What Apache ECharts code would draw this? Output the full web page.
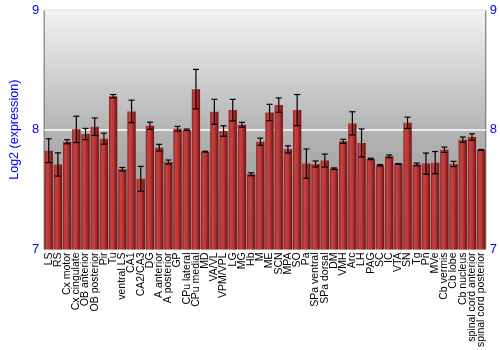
<!DOCTYPE html>
<html>
<head>
<meta charset="utf-8">
<script src="https://cdn.jsdelivr.net/npm/echarts@6/dist/echarts.min.js"></script>
<style>html,body{margin:0;padding:0;background:#fff}#c{width:500px;height:350px}</style>
</head>
<body>
<div id="c"></div>
<script>
const categories = ["LS","RS","Cx motor","Cx cingulate","OB anterior","OB posterior","Pir","Tu","ventral LS","CA1","CA2/CA3","DG","A anterior","A posterior","GP","CPu lateral","CPu medial","MD","VA/VL","VPM/VPL","LG","MG","Hb","M","ME","SCN","MPA","SO","Pa","SPa ventral","SPa dorsal","DM","VMH","Arc","LH","PAG","SC","IC","VTA","SN","Tg","Pn","MVe","Cb vermis","Cb lobe","Cb nucleus","spinal cord anterior","spinal cord posterior"];
const values = [7.825,7.71,7.90,8.003,7.964,8.025,7.925,8.28,7.67,8.153,7.59,8.033,7.85,7.73,8.008,8.0,8.339,7.817,8.15,7.989,8.164,8.042,7.628,7.9,8.144,8.206,7.836,8.164,7.717,7.714,7.742,7.675,7.903,8.053,7.889,7.756,7.703,7.778,7.714,8.058,7.71,7.717,7.725,7.833,7.714,7.917,7.939,7.831];
const errors = [0.10,0.097,0.017,0.11,0.047,0.073,0.046,0.014,0.015,0.094,0.104,0.03,0.028,0.017,0.02,0.006,0.165,0.003,0.104,0.044,0.09,0.02,0.012,0.03,0.068,0.06,0.03,0.13,0.122,0.025,0.054,0.006,0.017,0.097,0.117,0.006,0.006,0.011,0.003,0.047,0.011,0.088,0.093,0.022,0.022,0.022,0.027,0.004];
const yTicks = [7, 8, 9];

const chart = echarts.init(document.getElementById('c'), null, {renderer: 'canvas'});
const blue = '#0000ff';
const errData = values.map((v, i) => [i, v - errors[i], v + errors[i]]);

chart.setOption({
  animation: false,
  grid: {
    left: 27, right: 14, top: 10, bottom: 100,
    show: true,
    borderColor: '#666',
    borderWidth: 1,
    backgroundColor: new echarts.graphic.LinearGradient(0, 0, 0, 1, [
      {offset: 0, color: '#f3f3f3'},
      {offset: 0.5, color: '#b4b4b4'},
      {offset: 1, color: '#8e8e8e'}
    ])
  },
  xAxis: {
    type: 'category',
    data: categories,
    axisLine: {show: false},
    axisTick: {show: false},
    axisLabel: {
      rotate: 90, interval: 0, color: '#000', fontSize: 10.5,
      fontFamily: 'Liberation Sans, Arial, sans-serif', margin: 3
    }
  },
  yAxis: [{
    type: 'value', min: 7, max: 9, interval: 1,
    name: 'Log2 (expression)', nameLocation: 'middle', nameGap: 20,
    nameTextStyle: {color: blue, fontSize: 12.5, fontFamily: 'Liberation Sans, Arial, sans-serif'},
    axisLine: {show: false}, axisTick: {show: false},
    axisLabel: {color: blue, fontSize: 13, margin: 5, fontFamily: 'Liberation Sans, Arial, sans-serif',
      formatter: v => yTicks.includes(v) ? String(v) : ''},
    splitLine: {show: true, lineStyle: {color: '#ffffff', width: 1.5}}
  }, {
    type: 'value', min: 7, max: 9, interval: 1, position: 'right',
    axisLine: {show: false}, axisTick: {show: false},
    axisLabel: {color: blue, fontSize: 13, margin: 4, fontFamily: 'Liberation Sans, Arial, sans-serif',
      formatter: v => yTicks.includes(v) ? String(v) : ''},
    splitLine: {show: false}
  }],
  series: [{
    type: 'bar',
    data: values,
    barCategoryGap: '10%',
    itemStyle: {
      color: new echarts.graphic.LinearGradient(0, 0, 1, 0, [
        {offset: 0, color: '#8a1c1c'},
        {offset: 0.25, color: '#c44444'},
        {offset: 0.55, color: '#b83636'},
        {offset: 1, color: '#6e0f0f'}
      ])
    }
  }, {
    type: 'custom',
    data: errData,
    z: 10,
    renderItem: function (params, api) {
      const x = api.value(0);
      const lo = api.coord([x, api.value(1)]);
      const hi = api.coord([x, api.value(2)]);
      const cw = 3;
      const style = {stroke: '#000', lineWidth: 1.2};
      return {
        type: 'group',
        children: [
          {type: 'line', shape: {x1: lo[0], y1: lo[1], x2: hi[0], y2: hi[1]}, style: style},
          {type: 'line', shape: {x1: lo[0] - cw, y1: lo[1], x2: lo[0] + cw, y2: lo[1]}, style: style},
          {type: 'line', shape: {x1: hi[0] - cw, y1: hi[1], x2: hi[0] + cw, y2: hi[1]}, style: style}
        ]
      };
    }
  }]
});
</script>
</body>
</html>
